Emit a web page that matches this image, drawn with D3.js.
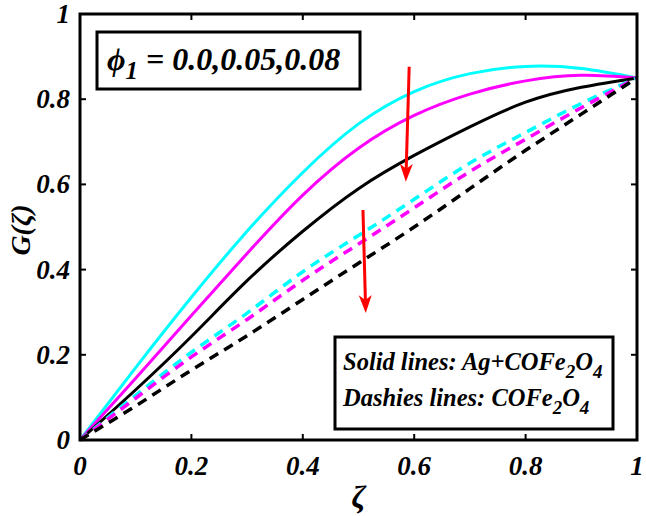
<!DOCTYPE html>
<html><head><meta charset="utf-8">
<script src="https://cdn.jsdelivr.net/npm/d3@7"></script>
<style>body{margin:0;background:#fff}svg{display:block}</style>
</head><body>
<svg id="c" width="646" height="516"></svg>
<script>
const zeta = [0,0.1,0.2,0.3,0.4,0.5,0.6,0.7,0.8,0.9,1.0];
const solidCyan    = [0,0.170,0.335,0.490,0.628,0.742,0.818,0.860,0.877,0.872,0.85];
const solidMagenta = [0,0.145,0.292,0.438,0.575,0.685,0.762,0.812,0.843,0.856,0.85];
const solidBlack   = [0,0.118,0.243,0.374,0.490,0.590,0.668,0.735,0.793,0.828,0.85];
const dashCyan     = [0,0.105,0.206,0.298,0.395,0.480,0.565,0.650,0.722,0.790,0.85];
const dashMagenta  = [0,0.098,0.195,0.283,0.375,0.460,0.545,0.630,0.706,0.780,0.85];
const dashBlack    = [0,0.080,0.164,0.245,0.330,0.415,0.500,0.590,0.680,0.765,0.85];
const xTicks = [0,0.2,0.4,0.6,0.8,1];
const yTicks = [0,0.2,0.4,0.6,0.8,1];
const xTickLabels = ["0","0.2","0.4","0.6","0.8","1"];
const yTickLabels = ["0","0.2","0.4","0.6","0.8","1"];
// arrows in data units: [x0,y0,x1,y1]
const arrows = [[0.591,0.876,0.585,0.606],[0.508,0.540,0.513,0.298]];

const series = [
  {v: solidCyan, c: "#00ffff", dash: null},
  {v: solidMagenta, c: "#ff00ff", dash: null},
  {v: solidBlack, c: "#000000", dash: null},
  {v: dashCyan, c: "#00ffff", dash: "10,7"},
  {v: dashMagenta, c: "#ff00ff", dash: "10,7"},
  {v: dashBlack, c: "#000000", dash: "10,7"}
];

const L=80, R=637, T=14, B=440;
const svg = d3.select("#c");
const font = "'Liberation Serif','Times New Roman',serif";
const x = d3.scaleLinear().domain([0,1]).range([L,R]);
const y = d3.scaleLinear().domain([0,1]).range([B,T]);

const line = d3.line().x((d,i)=>x(zeta[i])).y(d=>y(d)).curve(d3.curveNatural);
const g = svg.append("g");
series.forEach(s=>{
  g.append("path").attr("d", line(s.v)).attr("fill","none")
   .attr("stroke", s.c).attr("stroke-width", s.dash?3.5:3)
   .attr("stroke-dasharray", s.dash);
});

// ticks (inward, all four sides)
const tk = svg.append("g").attr("stroke","#000").attr("stroke-width",2);
xTicks.forEach(t=>{
  tk.append("line").attr("x1",x(t)).attr("x2",x(t)).attr("y1",B).attr("y2",B-6);
  tk.append("line").attr("x1",x(t)).attr("x2",x(t)).attr("y1",T).attr("y2",T+6);
});
yTicks.forEach(t=>{
  tk.append("line").attr("x1",L).attr("x2",L+6).attr("y1",y(t)).attr("y2",y(t));
  tk.append("line").attr("x1",R).attr("x2",R-6).attr("y1",y(t)).attr("y2",y(t));
});
svg.append("rect").attr("x",L).attr("y",T).attr("width",R-L).attr("height",B-T)
  .attr("fill","none").attr("stroke","#000").attr("stroke-width",3);

// tick labels
const lab = svg.append("g").attr("font-family",font).attr("font-weight","bold")
  .attr("font-style","italic").attr("font-size",27).attr("fill","#000");
xTicks.forEach((t,i)=>{
  lab.append("text").attr("x",x(t)).attr("y",475).attr("text-anchor","middle").text(xTickLabels[i]);
});
yTicks.forEach((t,i)=>{
  lab.append("text").attr("x",70).attr("y",y(t)+9).attr("text-anchor","end").text(yTickLabels[i]);
});
// axis titles
svg.append("text").attr("x",(L+R)/2).attr("y",508).attr("text-anchor","middle")
  .attr("font-family",font).attr("font-weight","bold").attr("font-style","italic")
  .attr("font-size",32).text("ζ");
svg.append("text").attr("transform","translate(30,230) rotate(-90)").attr("text-anchor","middle")
  .attr("font-family",font).attr("font-weight","bold").attr("font-style","italic")
  .attr("font-size",28).text("G(ζ)");

// arrows
arrows.forEach(a=>{
  const x0=x(a[0]), y0=y(a[1]), x1=x(a[2]), y1=y(a[3]);
  const dx=x1-x0, dy=y1-y0, len=Math.hypot(dx,dy), ux=dx/len, uy=dy/len, px=-uy, py=ux;
  const hl=18, hw=6.5, notch=5;
  const bx=x1-ux*hl, by=y1-uy*hl;
  svg.append("line").attr("x1",x0).attr("y1",y0).attr("x2",x1-ux*6).attr("y2",y1-uy*6)
    .attr("stroke","#ff0000").attr("stroke-width",3);
  svg.append("path").attr("fill","#ff0000")
    .attr("d",`M${x1},${y1}L${bx+px*hw},${by+py*hw}L${x1-ux*(hl-notch)},${y1-uy*(hl-notch)}L${bx-px*hw},${by-py*hw}Z`);
});

// legend box 1
svg.append("rect").attr("x",97).attr("y",32).attr("width",263).attr("height",57)
  .attr("fill","#fff").attr("stroke","#000").attr("stroke-width",3);
const t1 = svg.append("text").attr("x",107).attr("y",70).attr("font-family",font)
  .attr("font-weight","bold").attr("font-style","italic").attr("font-size",32);
t1.append("tspan").text("ϕ");
t1.append("tspan").attr("dy",9).attr("font-size",25).text("1");
t1.append("tspan").attr("dy",-9).text(" = 0.0,0.05,0.08");

// legend box 2
svg.append("rect").attr("x",335).attr("y",337).attr("width",278).attr("height",92)
  .attr("fill","#fff").attr("stroke","#000").attr("stroke-width",3);
function chem(sel, pre){
  sel.append("tspan").text(pre+"COFe");
  sel.append("tspan").attr("dy",8).attr("font-size",19).text("2");
  sel.append("tspan").attr("dy",-8).text("O");
  sel.append("tspan").attr("dy",8).attr("font-size",19).text("4");
}
const l1 = svg.append("text").attr("x",343).attr("y",370).attr("font-family",font)
  .attr("font-weight","bold").attr("font-style","italic").attr("font-size",24.5);
chem(l1,"Solid lines: Ag+");
const l2 = svg.append("text").attr("x",343).attr("y",406).attr("font-family",font)
  .attr("font-weight","bold").attr("font-style","italic").attr("font-size",24.5);
chem(l2,"Dashies lines: ");
</script>
</body></html>
